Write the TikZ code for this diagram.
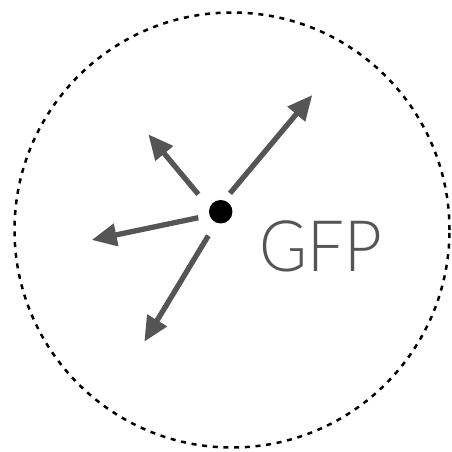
\documentclass[tikz,border=0pt]{standalone}
\usepackage{fontspec}
\newfontfamily\gfpfont{Lato Light}
\usetikzlibrary{arrows.meta}
\definecolor{arrgray}{HTML}{555555}
\tikzset{
  outarrow/.style={draw=arrgray, line width=5.3pt, -{Triangle[length=25pt,width=22pt]}, fill=arrgray},
}
\begin{document}
\begin{tikzpicture}[x=1pt,y=-1pt]
\useasboundingbox (0,0) rectangle (452,451);
\node[circle, draw=black, line width=2.5pt, dash pattern=on 5pt off 5.7pt, minimum size=435pt, inner sep=0pt] (cell) at (232,230) {};
\node[circle, fill=black, minimum size=23.5pt, inner sep=0pt] (dot) at (220.7,211.7) {};
\coordinate (s1) at (230,193.3);
\coordinate (t1) at (312.3,95);
\coordinate (s2) at (198.3,194.3);
\coordinate (t2) at (148.3,134.3);
\coordinate (s3) at (198.3,217.7);
\coordinate (t3) at (91.7,240);
\coordinate (s4) at (208.3,235.7);
\coordinate (t4) at (144.3,341.7);
\draw[outarrow] (s1) -- (t1);
\draw[outarrow] (s2) -- (t2);
\draw[outarrow] (s3) -- (t3);
\draw[outarrow] (s4) -- (t4);
\node[anchor=base west, inner sep=0pt, text=arrgray, xscale=0.92, font=\gfpfont\fontsize{71}{71}\selectfont] (label) at (259,271.7) {GFP};
\end{tikzpicture}
\end{document}
